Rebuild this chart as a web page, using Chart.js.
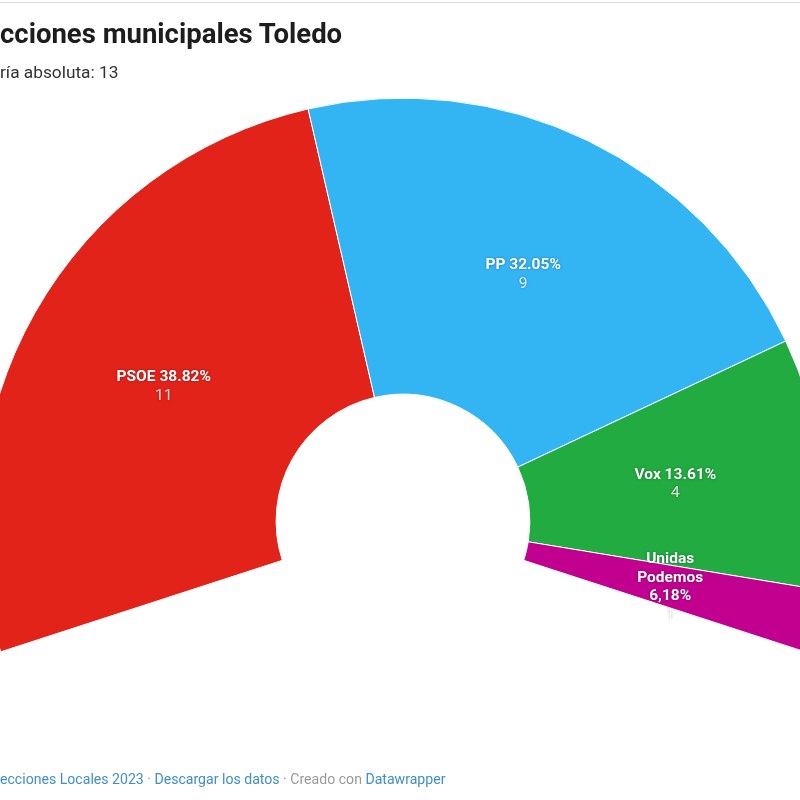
<!DOCTYPE html>
<html lang="es">
<head>
<meta charset="UTF-8">
<title>Elecciones municipales Toledo</title>
<script src="https://cdn.jsdelivr.net/npm/chart.js"></script>
<style>
  html, body { margin: 0; padding: 0; background: #fff; }
  body { width: 800px; height: 800px; position: relative; overflow: hidden; font-family: Roboto, "Noto Sans", sans-serif; }
  #topline { position: absolute; left: 0; top: 2px; width: 800px; height: 1px; background: #d8d8d8; }
  #chartBox { position: absolute; left: 0; top: 0; width: 800px; height: 800px; }
  .title { position: absolute; left: 0; top: 17px; font-size: 27.5px; font-weight: 700; color: #1d1d1d; white-space: nowrap; }
  .subtitle { position: absolute; left: 0; top: 62px; font-size: 17.3px; color: #333; white-space: nowrap; }
  .footer { position: absolute; left: 0; top: 771px; font-size: 14.1px; color: #999; white-space: nowrap; }
  .footer a { color: #3f8fc6; text-decoration: none; }
</style>
</head>
<body>
<div id="topline"></div>
<div id="chartBox"><canvas id="seatChart" width="800" height="800"></canvas></div>
<div class="title">cciones municipales Toledo</div>
<div class="subtitle">ría absoluta: 13</div>
<div class="footer"><a>ecciones Locales 2023</a> · <a>Descargar los datos</a> · Creado con <a>Datawrapper</a></div>
<script>
  const parties = ['PSOE', 'PP', 'Vox', 'Unidas Podemos'];
  const voteShares = ['38.82%', '32.05%', '13.61%', '6,18%'];
  const seats = [11, 9, 4, 1];
  const partyColors = ['#e2231a', '#33b5f4', '#21ab41', '#c1008f'];

  // writes name + share (bold) and seats below, in the middle of each slice
  const sliceLabels = {
    id: 'sliceLabels',
    afterDatasetsDraw(chart) {
      const ctx = chart.ctx;
      const arcs = chart.getDatasetMeta(0).data;
      ctx.save();
      ctx.textAlign = 'center';
      ctx.textBaseline = 'middle';
      ctx.shadowColor = 'rgba(0,0,0,0.4)';
      ctx.shadowBlur = 2.5;
      arcs.forEach((arc, i) => {
        const p = arc.getProps(['x', 'y', 'startAngle', 'endAngle', 'innerRadius', 'outerRadius'], true);
        const mid = (p.startAngle + p.endAngle) / 2;
        const r = (p.innerRadius + p.outerRadius) / 2;
        const cx = p.x + Math.cos(mid) * r;
        const cy = p.y + Math.sin(mid) * r;
        const maxW = Math.max((p.endAngle - p.startAngle) * r * 0.9, 30);

        ctx.font = 'bold 15.5px Roboto';
        const words = (parties[i] + ' ' + voteShares[i]).split(' ');
        const lines = [];
        let cur = '';
        words.forEach(w => {
          const test = cur ? cur + ' ' + w : w;
          if (cur && ctx.measureText(test).width > maxW) { lines.push(cur); cur = w; }
          else cur = test;
        });
        lines.push(cur);

        const lh = 18.5;
        const total = lines.length + 1;
        let y = cy - (total - 1) * lh / 2 + 1;
        ctx.fillStyle = '#ffffff';
        lines.forEach(l => { ctx.fillText(l, cx, y); y += lh; });
        ctx.font = '15.5px Roboto';
        ctx.fillStyle = 'rgba(255,255,255,0.85)';
        ctx.fillText(String(seats[i]), cx, y);
      });
      ctx.restore();
    }
  };

  new Chart(document.getElementById('seatChart'), {
    type: 'doughnut',
    data: {
      labels: parties,
      datasets: [{
        data: seats,
        backgroundColor: partyColors,
        borderColor: '#ffffff',
        borderWidth: 1,
        clip: false
      }]
    },
    plugins: [sliceLabels],
    options: {
      responsive: false,
      animation: false,
      rotation: 252,
      circumference: 216,
      radius: 423,
      cutout: '30%',
      layout: { padding: { left: 6, right: 0, top: 0, bottom: 50 } },
      plugins: {
        legend: { display: false },
        tooltip: { enabled: false }
      }
    }
  });
</script>
</body>
</html>
